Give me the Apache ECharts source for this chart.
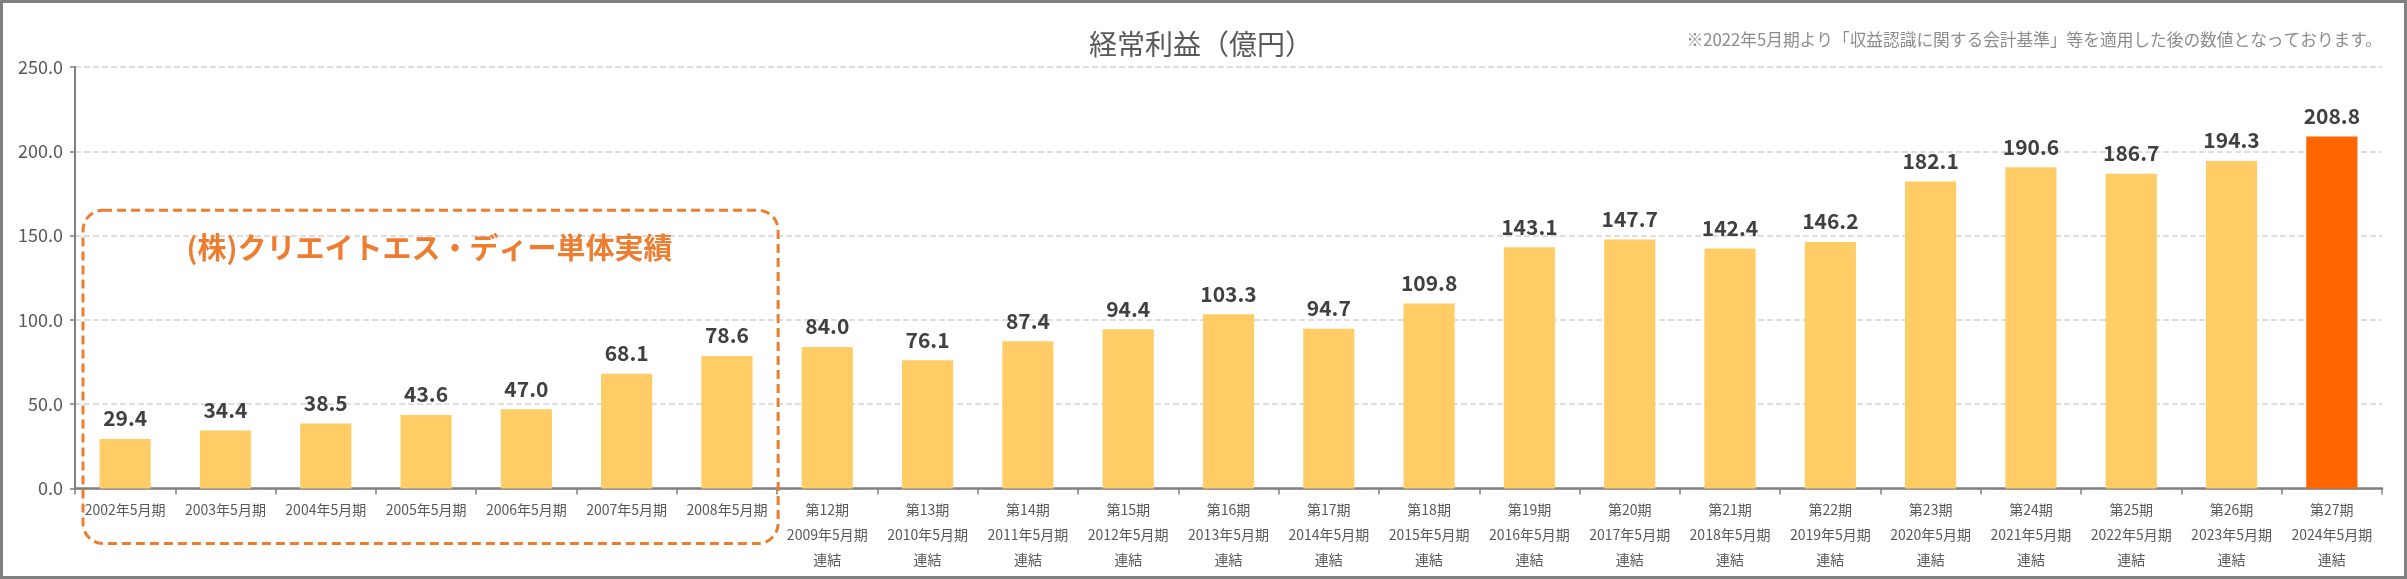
<!DOCTYPE html>
<html><head><meta charset="utf-8">
<script src="https://cdn.jsdelivr.net/npm/echarts@6/dist/echarts.min.js"></script>
<style>html,body{margin:0;padding:0;background:#fff}#c{width:2407px;height:579px}</style>
</head><body><div id="c"></div>
<script>
const categories = [
  "2002年5月期","2003年5月期","2004年5月期","2005年5月期","2006年5月期","2007年5月期","2008年5月期",
  "第12期\n2009年5月期\n連結","第13期\n2010年5月期\n連結","第14期\n2011年5月期\n連結","第15期\n2012年5月期\n連結",
  "第16期\n2013年5月期\n連結","第17期\n2014年5月期\n連結","第18期\n2015年5月期\n連結","第19期\n2016年5月期\n連結",
  "第20期\n2017年5月期\n連結","第21期\n2018年5月期\n連結","第22期\n2019年5月期\n連結","第23期\n2020年5月期\n連結",
  "第24期\n2021年5月期\n連結","第25期\n2022年5月期\n連結","第26期\n2023年5月期\n連結","第27期\n2024年5月期\n連結"
];
const ordinaryProfit = [29.4,34.4,38.5,43.6,47.0,68.1,78.6,84.0,76.1,87.4,94.4,103.3,94.7,109.8,143.1,147.7,142.4,146.2,182.1,190.6,186.7,194.3,208.8];
const highlightIndex = 22;
const standaloneCount = 7;
const yTicks = {min:0, max:250, interval:50};
const titleText = "経常利益（億円）";
const noteText = "※2022年5月期より「収益認識に関する会計基準」等を適用した後の数値となっております。";
const boxText = "(株)クリエイトエス・ディー単体実績";

const FONT = '"Noto Sans CJK JP","Noto Sans",sans-serif';
const chart = echarts.init(document.getElementById('c'));
const option = {
  backgroundColor:'#fff',
  animation:false,
  title:{text:titleText,left:1196,top:25,textAlign:'center',
    textStyle:{fontFamily:FONT,fontSize:28,fontWeight:'normal',color:'#595959'}},
  grid:{left:75,right:25,top:67,bottom:90.5,containLabel:false},
  xAxis:{type:'category',data:categories,
    axisLine:{lineStyle:{color:'#808080',width:2.5}},
    axisTick:{show:true,length:6,lineStyle:{color:'#808080',width:1.5}},
    axisLabel:{interval:0,margin:9,fontFamily:FONT,fontSize:14,color:'#595959',lineHeight:25}},
  yAxis:{type:'value',min:yTicks.min,max:yTicks.max,interval:yTicks.interval,
    axisLine:{show:true,lineStyle:{color:'#808080',width:2}},
    axisTick:{show:true,length:5,lineStyle:{color:'#808080',width:1.5}},
    axisLabel:{margin:12,fontFamily:FONT,fontSize:18,color:'#595959',formatter:v=>v.toFixed(1)},
    splitLine:{lineStyle:{color:'#d3d3d3',width:1.5,type:[6,3]}}},
  series:[{type:'bar',barWidth:'51%',
    data:ordinaryProfit.map((v,i)=>({value:v,itemStyle:{color:i===highlightIndex?'#FF6600':'#FFCC66'}})),
    label:{show:true,position:'top',distance:10,fontFamily:FONT,fontSize:21,fontWeight:'bold',color:'#404040',
      formatter:p=>p.value.toFixed(1)}}]
};
chart.setOption(option);

const x0 = chart.convertToPixel({xAxisIndex:0},0);
const x1 = chart.convertToPixel({xAxisIndex:0},1);
const band = x1 - x0;
const xl = x0 - band/2 + 8;
const xr = chart.convertToPixel({xAxisIndex:0},standaloneCount-1) + band/2 + 1;
const yTop = chart.convertToPixel({yAxisIndex:0},165);
const yAxisPix = chart.convertToPixel({yAxisIndex:0},0);
const yBot = yAxisPix + 55;

chart.setOption({graphic:[
  {type:'rect',silent:true,shape:{x:1.5,y:1.5,width:2404,height:576},style:{fill:'none',stroke:'#808080',lineWidth:3}},
  {type:'rect',silent:true,z:100,shape:{x:xl,y:yTop,width:xr-xl,height:yBot-yTop,r:20},
    style:{fill:'none',stroke:'#ED7D31',lineWidth:3,lineDash:[9,5]}},
  {type:'text',silent:true,z:100,x:(xl+xr)/2-1,y:248,
    style:{text:boxText,fontFamily:FONT,fontSize:29,fontWeight:'bold',fill:'#ED7D31',align:'center',verticalAlign:'middle'}},
  {type:'text',silent:true,x:2382,y:40,
    style:{text:noteText,fontFamily:FONT,fontSize:16.7,fill:'#8c8c8c',align:'right',verticalAlign:'middle'}}
]});
</script></body></html>
